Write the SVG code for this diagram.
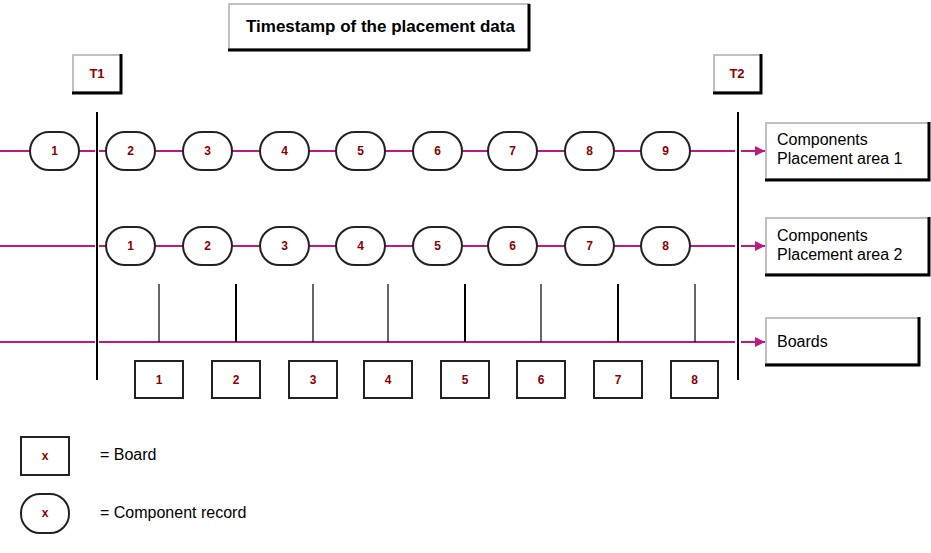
<svg xmlns="http://www.w3.org/2000/svg" width="931" height="553" viewBox="0 0 931 553">
<style>
.flow{stroke:#c0187f;stroke-width:2;fill:none}
.bar{stroke:#000;stroke-width:2}
.tick{stroke:#000;stroke-width:1.2}
.tick2{stroke:#000;stroke-width:2}
.rec{fill:#fff;stroke:#222;stroke-width:2}
.board{fill:#fff;stroke:#222;stroke-width:2}
.num{font-family:"Liberation Sans",Arial,sans-serif;font-size:12px;font-weight:bold;fill:#8b0000;text-anchor:middle}
.lbl{font-family:"Liberation Sans",Arial,sans-serif;font-size:16px;fill:#000}
.ttl{font-family:"Liberation Sans",Arial,sans-serif;font-size:17px;font-weight:bold;fill:#000}
.shadowbox{fill:#fff;stroke:#c0c0c0;stroke-width:2}
.shadow{stroke:#000;stroke-width:3;fill:none}
</style>
<defs>
<marker id="arr" markerWidth="10" markerHeight="10" refX="10" refY="5" orient="auto" markerUnits="userSpaceOnUse">
<path d="M0,0 L10,5 L0,10 Z" fill="#c0187f"/>
</marker>
</defs>

<g id="connectors">
<path class="flow" d="M0,151 H95 M99,151 H735"/>
<path class="flow" d="M741,151 H765" marker-end="url(#arr)"/>
<path class="flow" d="M0,246 H95 M99,246 H735"/>
<path class="flow" d="M741,246 H765" marker-end="url(#arr)"/>
<path class="flow" d="M0,342 H95 M99,342 H735"/>
<path class="flow" d="M741,342 H765" marker-end="url(#arr)"/>
<line class="bar" x1="97" y1="112" x2="97" y2="380"/>
<line class="bar" x1="738" y1="112" x2="738" y2="380"/>
<line class="tick" x1="159" y1="284" x2="159" y2="342"/>
<line class="tick2" x1="236" y1="284" x2="236" y2="342"/>
<line class="tick" x1="313" y1="284" x2="313" y2="342"/>
<line class="tick" x1="388" y1="284" x2="388" y2="342"/>
<line class="tick2" x1="465" y1="284" x2="465" y2="342"/>
<line class="tick" x1="541" y1="284" x2="541" y2="342"/>
<line class="tick2" x1="618" y1="284" x2="618" y2="342"/>
<line class="tick" x1="695" y1="284" x2="695" y2="342"/>
</g>

<g id="title">
<rect class="shadowbox" x="229" y="4" width="300" height="45"/>
<path class="shadow" d="M529,4 V50 H228"/>
<text class="ttl" x="246" y="32">Timestamp of the placement data</text>
</g>

<g id="T1">
<rect class="shadowbox" x="73" y="55" width="48" height="37"/>
<path class="shadow" d="M121,54 V93 H72"/>
<text class="num" x="97" y="78" style="font-size:13px">T1</text>
</g>
<g id="T2">
<rect class="shadowbox" x="714" y="55" width="47" height="37"/>
<path class="shadow" d="M761,54 V93 H713"/>
<text class="num" x="737" y="78" style="font-size:13px">T2</text>
</g>

<g id="area1">
<rect class="shadowbox" x="766" y="123" width="163" height="56"/>
<path class="shadow" d="M929,122 V180 H765"/>
<text class="lbl" x="777" y="145">Components</text>
<text class="lbl" x="777" y="164">Placement area 1</text>
</g>
<g id="area2">
<rect class="shadowbox" x="766" y="218" width="163" height="56"/>
<path class="shadow" d="M929,217 V275 H765"/>
<text class="lbl" x="777" y="241">Components</text>
<text class="lbl" x="777" y="260">Placement area 2</text>
</g>
<g id="boards">
<rect class="shadowbox" x="766" y="318" width="153" height="46"/>
<path class="shadow" d="M919,317 V365 H765"/>
<text class="lbl" x="777" y="347">Boards</text>
</g>

<g id="row1">
<rect class="rec" x="30" y="132" width="49" height="38" rx="19"/><text class="num" x="54.5" y="155">1</text>
<rect class="rec" x="106" y="132" width="49" height="38" rx="19"/><text class="num" x="130.5" y="155">2</text>
<rect class="rec" x="183" y="132" width="49" height="38" rx="19"/><text class="num" x="207.5" y="155">3</text>
<rect class="rec" x="260" y="132" width="49" height="38" rx="19"/><text class="num" x="284.5" y="155">4</text>
<rect class="rec" x="336" y="132" width="49" height="38" rx="19"/><text class="num" x="360.5" y="155">5</text>
<rect class="rec" x="413" y="132" width="49" height="38" rx="19"/><text class="num" x="437.5" y="155">6</text>
<rect class="rec" x="488" y="132" width="49" height="38" rx="19"/><text class="num" x="512.5" y="155">7</text>
<rect class="rec" x="565" y="132" width="49" height="38" rx="19"/><text class="num" x="589.5" y="155">8</text>
<rect class="rec" x="641" y="132" width="49" height="38" rx="19"/><text class="num" x="665.5" y="155">9</text>
</g>

<g id="row2">
<rect class="rec" x="106" y="227" width="49" height="38" rx="19"/><text class="num" x="130.5" y="250">1</text>
<rect class="rec" x="183" y="227" width="49" height="38" rx="19"/><text class="num" x="207.5" y="250">2</text>
<rect class="rec" x="260" y="227" width="49" height="38" rx="19"/><text class="num" x="284.5" y="250">3</text>
<rect class="rec" x="336" y="227" width="49" height="38" rx="19"/><text class="num" x="360.5" y="250">4</text>
<rect class="rec" x="413" y="227" width="49" height="38" rx="19"/><text class="num" x="437.5" y="250">5</text>
<rect class="rec" x="488" y="227" width="49" height="38" rx="19"/><text class="num" x="512.5" y="250">6</text>
<rect class="rec" x="565" y="227" width="49" height="38" rx="19"/><text class="num" x="589.5" y="250">7</text>
<rect class="rec" x="641" y="227" width="49" height="38" rx="19"/><text class="num" x="665.5" y="250">8</text>
</g>

<g id="row3">
<rect class="board" x="135" y="361" width="48" height="37"/><text class="num" x="159" y="384">1</text>
<rect class="board" x="212" y="361" width="48" height="37"/><text class="num" x="236" y="384">2</text>
<rect class="board" x="289" y="361" width="48" height="37"/><text class="num" x="313" y="384">3</text>
<rect class="board" x="364" y="361" width="48" height="37"/><text class="num" x="388" y="384">4</text>
<rect class="board" x="441" y="361" width="48" height="37"/><text class="num" x="465" y="384">5</text>
<rect class="board" x="517" y="361" width="48" height="37"/><text class="num" x="541" y="384">6</text>
<rect class="board" x="594" y="361" width="48" height="37"/><text class="num" x="618" y="384">7</text>
<rect class="board" x="671" y="361" width="47" height="37"/><text class="num" x="694.5" y="384">8</text>
</g>

<g id="legend-board">
<rect class="board" x="21" y="437" width="48" height="38"/>
<text class="num" x="45" y="460">x</text>
<text class="lbl" x="100" y="460">= Board</text>
</g>
<g id="legend-record">
<rect class="rec" x="21" y="494" width="48" height="39" rx="19"/>
<text class="num" x="45" y="517">x</text>
<text class="lbl" x="100" y="518">= Component record</text>
</g>
</svg>
